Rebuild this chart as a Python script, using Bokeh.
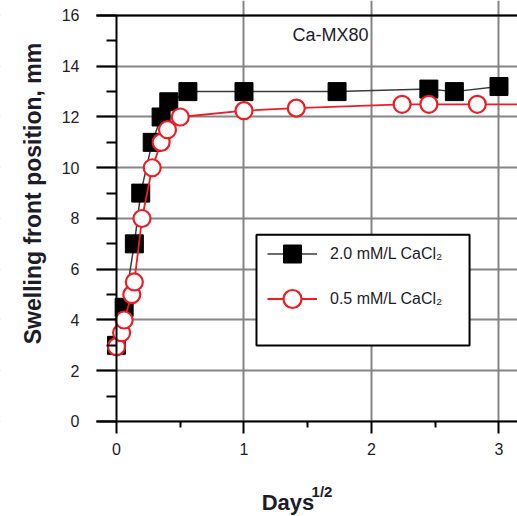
import math
from bokeh.plotting import figure
from bokeh.models import (FixedTicker, Legend, LegendItem, BoxAnnotation, Label, Range1d, LinearAxis)
from bokeh.embed import file_html
from bokeh.resources import INLINE

# ---- data (x = days^1/2, y = swelling front position, mm) ----
sq_x = [0.0, 0.06, 0.14, 0.19, 0.28, 0.35, 0.41, 0.56, 1.0, 1.73, 2.45, 2.65, 3.0]
sq_y = [3.0, 4.5, 7.0, 9.0, 11.0, 12.0, 12.6, 13.0, 13.0, 13.0, 13.1, 13.0, 13.2]
ci_x = [0.0, 0.04, 0.06, 0.12, 0.14, 0.2, 0.28, 0.35, 0.40, 0.50, 1.0, 1.41, 2.24, 2.45, 2.83, 3.32]
ci_y = [2.95, 3.5, 4.0, 5.0, 5.5, 8.0, 10.0, 11.0, 11.5, 12.0, 12.25, 12.35, 12.5, 12.5, 12.5, 12.5]
series_labels = ["2.0 mM/L CaCl\u2082", "0.5 mM/L CaCl\u2082"]
x_major = [0, 1, 2, 3]
x_minor = [0.5, 1.5, 2.5]
y_major = [0, 2, 4, 6, 8, 10, 12, 14, 16]
y_minor = [1, 3, 5, 7, 9, 11, 13, 15]
panel_title = "Ca-MX80"
y_title = "Swelling front position, mm"
x_title = "Days"
x_title_sup = "1/2"

X0, X1 = -0.157, 3.1451   # visible plot box in x
Y0, Y1 = 0, 16

FONT = "Liberation Sans"
TXT = "#1c1c2a"

p = figure(width=517, height=516, output_backend="svg", toolbar_location=None,
           x_range=Range1d(-0.9098, 3.1451), y_range=Range1d(-3.744, 16.591),
           min_border_left=0, min_border_right=0, min_border_top=0, min_border_bottom=0)
p.outline_line_color = None
p.background_fill_color = "white"
p.border_fill_color = "white"

# grid
p.xgrid.ticker = FixedTicker(ticks=[1, 2, 3])
p.ygrid.ticker = FixedTicker(ticks=y_major)
for g in (p.xgrid, p.ygrid):
    g.grid_line_color = "#858585"
    g.grid_line_width = 2

# white covers outside the plot box (hide grid there)
p.add_layout(BoxAnnotation(left=-5, right=X0, bottom=-10, top=30, fill_color="white",
                           fill_alpha=1.0, line_alpha=0, level="underlay"))
p.add_layout(BoxAnnotation(left=-5, right=10, bottom=-10, top=Y0, fill_color="white",
                           fill_alpha=1.0, line_alpha=0, level="underlay"))

# axes
p.xaxis.ticker = FixedTicker(ticks=x_major, minor_ticks=x_minor)
p.yaxis.ticker = FixedTicker(ticks=y_major, minor_ticks=y_minor)
p.xaxis.fixed_location = 0
p.yaxis.fixed_location = 0
p.xaxis.bounds = (X0, X1)
p.yaxis.bounds = (Y0, Y1)
for ax in (p.xaxis, p.yaxis):
    ax.axis_line_color = "black"
    ax.axis_line_width = 2
    ax.major_tick_line_color = "black"
    ax.major_tick_line_width = 2
    ax.minor_tick_line_color = "black"
    ax.minor_tick_line_width = 2
    ax.major_tick_in = 0
    ax.minor_tick_in = 0
    ax.major_label_text_font = FONT
    ax.major_label_text_font_size = "16px"
    ax.major_label_text_color = TXT
p.xaxis.major_tick_out = 12
p.xaxis.minor_tick_out = 6
p.xaxis.major_label_standoff = 10
p.yaxis.major_tick_out = 20
p.yaxis.minor_tick_out = 10
p.yaxis.major_label_standoff = 17

# top border of the plot box
top = LinearAxis(fixed_location=Y1, bounds=(X0, X1), ticker=FixedTicker(ticks=[]),
                 axis_line_color="black", axis_line_width=2,
                 major_tick_line_color=None, minor_tick_line_color=None,
                 major_label_text_font_size="0px")
p.add_layout(top, "above")

# legend box
p.add_layout(BoxAnnotation(left=1.098, right=2.769, top=7.36, bottom=2.99,
                           fill_color="white", fill_alpha=1.0,
                           line_color="black", line_alpha=1.0, line_width=2))

# series
l1 = p.line(sq_x, sq_y, line_color="#3a3a3a", line_width=1.5)
s1 = p.scatter(sq_x, sq_y, marker="square", size=18, fill_color="black", line_color="black")
l2 = p.line(ci_x, ci_y, line_color="#ee1c24", line_width=1.8)
s2 = p.scatter(ci_x, ci_y, marker="circle", size=17, fill_color="white",
               line_color="#ee1c24", line_width=2.2)

legend = Legend(items=[LegendItem(label=series_labels[0], renderers=[l1, s1]),
                       LegendItem(label=series_labels[1], renderers=[l2, s2])],
                location=(267, 195), padding=0, margin=0, spacing=-9,
                glyph_width=50, glyph_height=45, label_standoff=13,
                label_text_font=FONT, label_text_font_size="16px", label_text_color=TXT,
                border_line_alpha=0, background_fill_alpha=0)
p.add_layout(legend, "center")

# texts
p.add_layout(Label(x=1.38, y=15.25, text=panel_title, text_align="left", text_baseline="middle",
                   text_font=FONT, text_font_size="18px", text_color=TXT))
p.add_layout(Label(x=-0.651, y=8.985, text=y_title, angle=math.pi / 2,
                   text_align="center", text_baseline="middle",
                   text_font=FONT, text_font_size="23px", text_font_style="bold", text_color=TXT))
p.add_layout(Label(x=1.345, y=-3.20, text=x_title, text_align="center", text_baseline="middle",
                   text_font=FONT, text_font_size="22px", text_font_style="bold", text_color=TXT))
p.add_layout(Label(x=1.53, y=-2.74, text=x_title_sup, text_align="left", text_baseline="middle",
                   text_font=FONT, text_font_size="15px", text_font_style="bold", text_color=TXT))

open("out.html", "w").write(file_html(p, INLINE))
